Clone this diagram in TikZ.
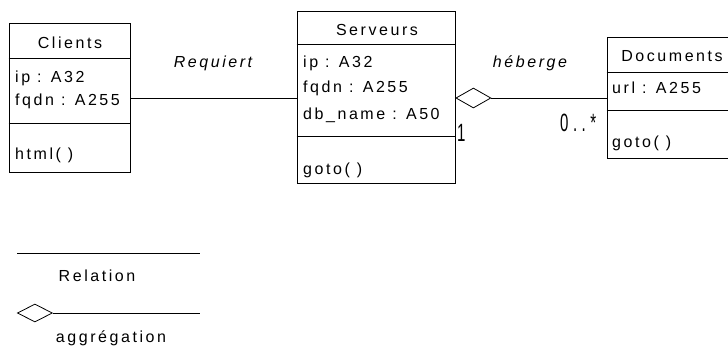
\documentclass[tikz,border=0pt]{standalone}
\usepackage{fontspec}
\usetikzlibrary{positioning, shapes.geometric}
\newfontfamily\umlfamily{Liberation Sans}[LetterSpace=16]
\newfontfamily\multfamily{Liberation Sans}[FakeStretch=0.6, LetterSpace=18]
\newcommand{\umlfont}{\fontsize{16}{19}\selectfont\umlfamily}
\newcommand{\multfont}{\fontsize{25}{28}\selectfont\multfamily}
\definecolor{ink}{HTML}{000000}
\definecolor{paper}{HTML}{FFFFFF}

\begin{document}
\begin{tikzpicture}[
    x=1pt, y=-1pt,
    font=\umlfont,
    % class boxes: one node per class, compartments drawn as rules
    umlclass/.style={
        rectangle, draw=ink, line width=1pt,
        fill=paper, inner sep=0pt,
    },
    classname/.style={font=\umlfont, text=ink, inner sep=0pt, anchor=base},
    member/.style={font=\umlfont, text=ink, inner sep=0pt, anchor=base west},
    rolelabel/.style={font=\umlfont\itshape, text=ink, inner sep=0pt, anchor=base},
    multlabel/.style={font=\multfont, text=ink, inner sep=0pt, anchor=base west},
    legendtext/.style={font=\umlfont, text=ink, inner sep=0pt, anchor=base},
    assoc/.style={draw=ink, line width=1pt},
    separator/.style={draw=ink, line width=1pt},
    aggdiamond/.style={
        diamond, draw=ink, line width=0.8pt, fill=paper,
        minimum width=35pt, minimum height=20pt, inner sep=0pt,
    },
]

\useasboundingbox (0,0) rectangle (728,349);

% =====================================================================
% CLIENTS
% =====================================================================

\node[umlclass, minimum width=121pt, minimum height=149pt] (cli) at (69.5, 97.5) {};
\draw[separator] (cli.west |- 0, 58)  -- (cli.east |- 0, 58);
\draw[separator] (cli.west |- 0, 123) -- (cli.east |- 0, 123);

\node[classname] (cli-name) at (70, 48)  {Clients};
\node[member]    (cli-ip)   at (15, 82)  {ip : A32};
\node[member]    (cli-fqdn) at (15, 105) {fqdn : A255};
\node[member]    (cli-html) at (15, 159) {html( )};

% =====================================================================
% SERVEURS
% =====================================================================

\node[umlclass, minimum width=158pt, minimum height=172pt] (srv) at (376, 97) {};
\draw[separator] (srv.west |- 0, 44)  -- (srv.east |- 0, 44);
\draw[separator] (srv.west |- 0, 136) -- (srv.east |- 0, 136);

\node[classname] (srv-name) at (377, 35)  {Serveurs};
\node[member]    (srv-ip)   at (303, 67)  {ip : A32};
\node[member]    (srv-fqdn) at (303, 92)  {fqdn : A255};
\node[member]    (srv-db)   at (303, 119) {db\_name : A50};
\node[member]    (srv-goto) at (303, 174) {goto( )};

% =====================================================================
% DOCUMENTS (runs off the right edge)
% =====================================================================

\node[umlclass, minimum width=125pt, minimum height=121pt] (doc) at (669.5, 97.5) {};
\draw[separator] (doc.west |- 0, 72)  -- (doc.east |- 0, 72);
\draw[separator] (doc.west |- 0, 110) -- (doc.east |- 0, 110);

\node[classname] (doc-name) at (672, 61)  {Documents};
\node[member]    (doc-url)  at (612, 93)  {url : A255};
\node[member]    (doc-goto) at (612, 147) {goto( )};

% =====================================================================
% ASSOCIATIONS
% =====================================================================

% Clients -- Serveurs
\draw[assoc] (cli.east |- 0, 98) -- (srv.west |- 0, 98);
\node[rolelabel] (lbl-req) at (213, 67) {Requiert};

% Serveurs <>-- Documents
\node[aggdiamond, anchor=west] (srv-agg) at (srv.east |- 0, 98) {};
\draw[assoc] (srv-agg.east) -- (doc.west |- srv-agg.east);
\node[rolelabel] (lbl-heb) at (530, 67) {héberge};
\node[multlabel] (mult-one)  at (457, 141) {1};
\node[multlabel] (mult-many) at (560, 131) {0..*};

% =====================================================================
% LEGEND
% =====================================================================

\coordinate (rel-a) at (17, 253);
\coordinate (rel-b) at (200, 253);
\draw[assoc] (rel-a) -- (rel-b);
\node[legendtext] (lbl-rel) at (97, 281) {Relation};

\node[aggdiamond, minimum height=18pt, anchor=west] (leg-agg) at (17, 313) {};
\coordinate (agg-b) at (200, 313);
\draw[assoc] (leg-agg.east) -- (agg-b);
\node[legendtext] (lbl-agg) at (111, 342) {aggrégation};

\end{tikzpicture}
\end{document}
